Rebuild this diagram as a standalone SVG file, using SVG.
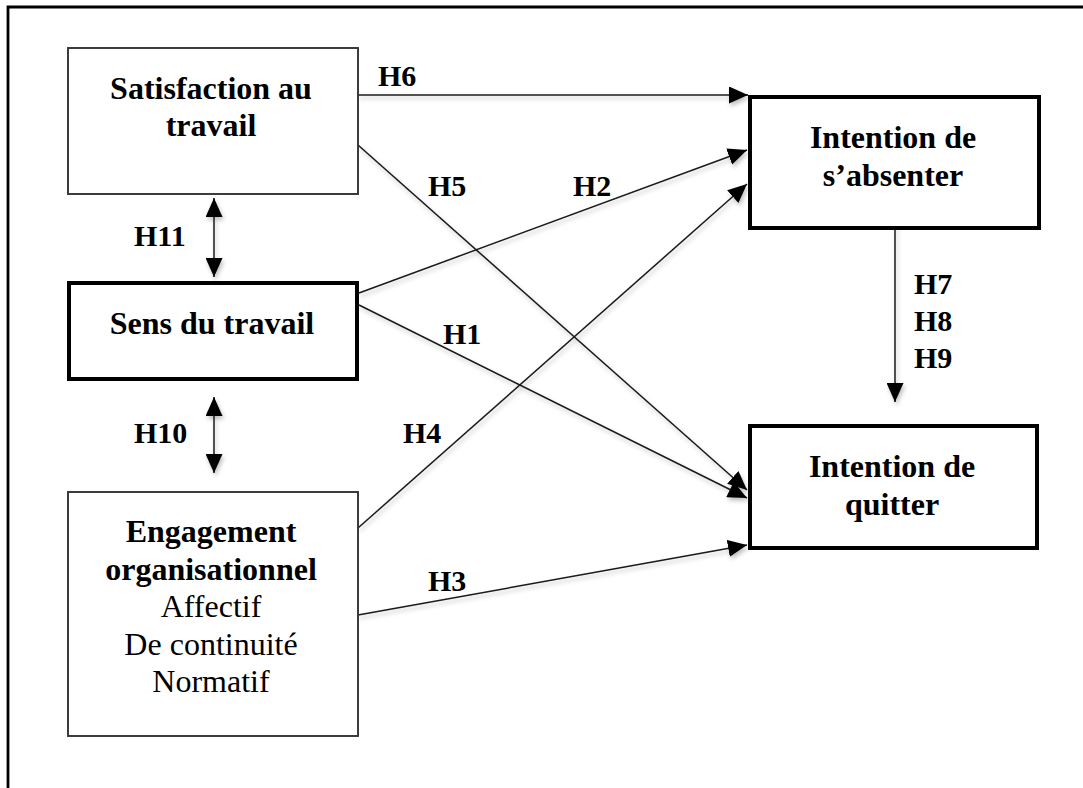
<svg xmlns="http://www.w3.org/2000/svg" width="1083" height="788" viewBox="0 0 1083 788">
  <style>
    .frame { fill: none; stroke: #000; stroke-width: 2.8; }
    .box-thin { fill: #fff; stroke: #333; stroke-width: 1.9; }
    .box-thick { fill: #fff; stroke: #000; stroke-width: 4; }
    .node-title { font-family: "Liberation Serif", "Times New Roman", serif; font-size: 32px; font-weight: bold; fill: #000; text-anchor: middle; }
    .node-sub { font-family: "Liberation Serif", "Times New Roman", serif; font-size: 32px; fill: #000; text-anchor: middle; }
    .label { font-family: "Liberation Serif", "Times New Roman", serif; font-size: 30px; font-weight: bold; fill: #000; }
    .link { fill: none; stroke: #1a1a1a; stroke-width: 1.5; }
  </style>
  <defs>
    <marker id="head" viewBox="0 0 19 17" refX="19" refY="8.5" markerWidth="19" markerHeight="17" markerUnits="userSpaceOnUse" orient="auto-start-reverse">
      <path d="M0,0 L19,8.5 L0,17 z" fill="#000"/>
    </marker>
    <filter id="soft-shadow" filterUnits="userSpaceOnUse" x="0" y="0" width="1083" height="788">
      <feDropShadow dx="1.5" dy="3" stdDeviation="2.2" flood-color="#000" flood-opacity="0.25"/>
    </filter>
  </defs>

  <rect width="1083" height="788" fill="#fff"/>

  <!-- outer frame (open towards the right and bottom edges) -->
  <path class="frame" d="M8,790 L8,7 L1090,7"/>

  <!-- connectors -->
  <g id="connectors" filter="url(#soft-shadow)">
    <line class="link" x1="358" y1="95" x2="748" y2="95" marker-end="url(#head)"/>
    <line class="link" x1="358" y1="145" x2="747" y2="490" marker-end="url(#head)"/>
    <line class="link" x1="359" y1="293" x2="747" y2="150" marker-end="url(#head)"/>
    <line class="link" x1="359" y1="305" x2="747" y2="498" marker-end="url(#head)"/>
    <line class="link" x1="358" y1="528" x2="747" y2="184" marker-end="url(#head)"/>
    <line class="link" x1="358" y1="615" x2="747" y2="545" marker-end="url(#head)"/>
    <line class="link" x1="895" y1="224" x2="895" y2="402" marker-end="url(#head)"/>
    <line class="link" x1="214" y1="198" x2="214" y2="277" marker-start="url(#head)" marker-end="url(#head)"/>
    <line class="link" x1="214" y1="397" x2="214" y2="473" marker-start="url(#head)" marker-end="url(#head)"/>
  </g>

  <!-- hypothesis labels -->
  <g id="labels">
    <text class="label" x="378" y="86">H6</text>
    <text class="label" x="428" y="196">H5</text>
    <text class="label" x="573" y="196">H2</text>
    <text class="label" x="443" y="344">H1</text>
    <text class="label" x="403" y="443">H4</text>
    <text class="label" x="428" y="591">H3</text>
    <text class="label" x="914" y="294">H7</text>
    <text class="label" x="914" y="331">H8</text>
    <text class="label" x="914" y="368">H9</text>
    <text class="label" x="134" y="246">H11</text>
    <text class="label" x="134" y="443">H10</text>
  </g>

  <g id="satisfaction">
    <rect class="box-thin" x="68" y="48" width="290" height="146"/>
    <text class="node-title" x="211" y="99">Satisfaction au</text>
    <text class="node-title" x="211" y="136">travail</text>
  </g>

  <g id="sens">
    <rect class="box-thick" x="69" y="283" width="288" height="96"/>
    <text class="node-title" x="212" y="334">Sens du travail</text>
  </g>

  <g id="engagement">
    <rect class="box-thin" x="68" y="492" width="290" height="244"/>
    <text class="node-title" x="211" y="542">Engagement</text>
    <text class="node-title" x="211" y="580">organisationnel</text>
    <text class="node-sub" x="211" y="617">Affectif</text>
    <text class="node-sub" x="211" y="655">De continuité</text>
    <text class="node-sub" x="211" y="692">Normatif</text>
  </g>

  <g id="absenter">
    <rect class="box-thick" x="750" y="97" width="289" height="131"/>
    <text class="node-title" x="893" y="148">Intention de</text>
    <text class="node-title" x="893" y="186">s’absenter</text>
  </g>

  <g id="quitter">
    <rect class="box-thick" x="750" y="426" width="287" height="122"/>
    <text class="node-title" x="892" y="477">Intention de</text>
    <text class="node-title" x="892" y="515">quitter</text>
  </g>
</svg>
